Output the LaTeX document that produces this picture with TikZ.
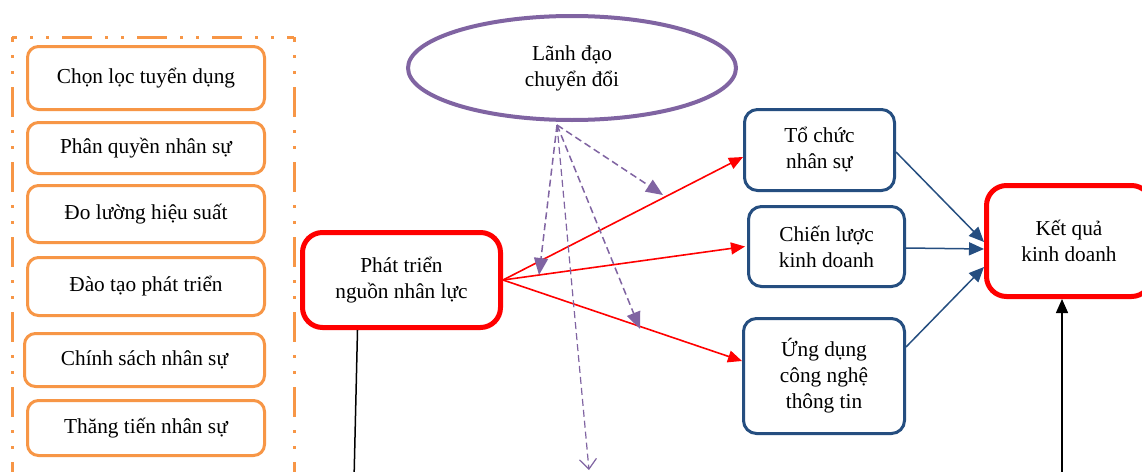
\documentclass[tikz,border=0pt]{standalone}
\usepackage{fontspec}
\setmainfont{Liberation Serif}
\usetikzlibrary{shapes.geometric,arrows.meta,calc}
\definecolor{orng}{HTML}{F79646}
\definecolor{purp}{HTML}{8064A2}
\definecolor{navy}{HTML}{254E80}
\definecolor{rd}{HTML}{FF0000}
\tikzset{
  txt/.style={font=\fontsize{21.3}{26}\selectfont, align=center, inner sep=0pt},
  obox/.style={txt, draw=orng, line width=3pt, rounded corners=11pt, minimum width=237pt},
  bbox/.style={txt, draw=navy, line width=3pt, rounded corners=13pt},
  rbox/.style={txt, draw=rd, line width=5pt, rounded corners=20pt},
  frame/.style={orng, line width=3pt, dash pattern=on 30pt off 13pt on 3pt off 13pt on 3pt off 13pt, dash phase=25pt},
  redarr/.style={draw=rd, line width=1.6pt, -{Triangle[length=14pt,width=12pt]}},
  bluearr/.style={draw=navy, line width=1.5pt, -{Triangle[length=15pt,width=13pt]}},
  purarr/.style={draw=purp, line width=1.5pt, dash pattern=on 7pt off 4pt, -{Triangle[length=17pt,width=14pt]}},
  openarr/.style={draw=purp, line width=1.2pt, dash pattern=on 7pt off 4pt, -{Straight Barb[length=10pt,width=17pt,line width=1.2pt]}},
}
\begin{document}
\begin{tikzpicture}[x=1pt,y=-1pt]
\clip (0,0) rectangle (1142,471);
\fill[white] (0,0) rectangle (1142,471);
% outer dash-dot-dot frame
\coordinate (ftl) at (12,37);
\coordinate (ftr) at (294,37);
\draw[frame] (ftl) -- (ftr);
\draw[frame] (ftl) -- (12,480);
\draw[frame] (ftr) -- (294,480);
% orange boxes
\node[obox, minimum height=63pt] (c1) at (146,78) {Chọn lọc tuyển dụng};
\node[obox, minimum height=51pt] (c2) at (146,148) {Phân quyền nhân sự};
\node[obox, minimum height=57pt] (c3) at (146,214) {Đo lường hiệu suất};
\node[obox, minimum height=58pt] (c4) at (146,286.5) {Đào tạo phát triển};
\node[obox, minimum height=53pt, minimum width=240pt] (c5) at (144.5,360) {Chính sách nhân sự};
\node[obox, minimum height=55pt] (c6) at (146,428) {Thăng tiến nhân sự};
% leadership ellipse
\node[txt, ellipse, draw=purp, line width=4pt, minimum width=328pt, minimum height=104pt] (lead) at (572,68) {Lãnh đạo\\chuyển đổi};
% HR development
\node[rbox, minimum width=198pt, minimum height=95pt] (hr) at (401.5,280) {Phát triển\\nguồn nhân lực};
% mediators
\node[bbox, minimum width=150pt, minimum height=81pt] (tc) at (819.5,150) {Tổ chức\\nhân sự};
\node[bbox, minimum width=156pt, minimum height=80pt] (cl) at (826.5,246.5) {Chiến lược\\kinh doanh};
\node[bbox, minimum width=161pt, minimum height=115pt] (ud) at (824,376) {Ứng dụng\\công nghệ\\thông tin};
% outcome
\node[rbox, minimum width=165pt, minimum height=111pt] (kq) at (1069,241) {Kết quả\\kinh doanh};
% coordinates for free ends
\coordinate (ls) at ($(lead.south)+(-15,3)$);
\coordinate (hrb) at (354,480);
\coordinate (kqb) at (1062,480);
\coordinate (d1) at (539,275);
\coordinate (d2) at (663,195);
\coordinate (d3) at (640,329);
\coordinate (d4) at (589,470);
% red arrows
\draw[redarr] (hr.east) -- ($(tc.west)+(0,7)$);
\draw[redarr] (hr.east) -- ($(cl.west)+(-2,0)$);
\draw[redarr] (hr.east) -- ($(ud.west)+(0,-15)$);
% blue arrows
\draw[bluearr] ($(tc.east)+(0,2)$) -- ($(kq.west)+(0,1)$);
\draw[bluearr] ($(cl.east)+(0,1.5)$) -- ($(kq.west)+(0,8)$);
\draw[bluearr] ($(ud.east)+(0,-29)$) -- ($(kq.west)+(0,26)$);
% black lines
\draw[line width=1.5pt] ($(hr.south)+(-44,0)$) -- (hrb);
\draw[line width=1.5pt, -{Triangle[length=14pt,width=12pt]}] (kqb) -- ($(kq.south)+(-7,0)$);
% purple dashed arrows
\draw[purarr] (ls) -- (d1);
\draw[purarr] (ls) -- (d2);
\draw[purarr] (ls) -- (d3);
\draw[openarr] (ls) -- (d4);
\end{tikzpicture}
\end{document}
